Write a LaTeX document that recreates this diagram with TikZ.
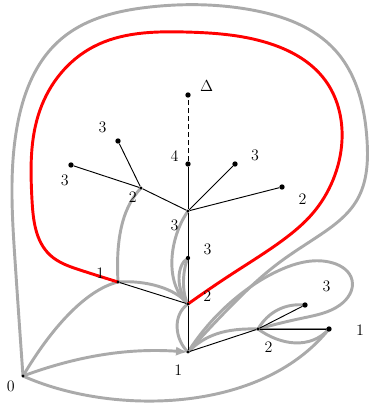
\documentclass[tikz,border=0pt]{standalone}
\usepackage{amsmath}
\usepackage{xcolor}
\usepackage{tikz}
\usetikzlibrary{arrows.meta, hobby, backgrounds}

\definecolor{pathgray}{RGB}{170,170,170}
\definecolor{edgegray}{RGB}{135,135,135}

\begin{document}
\begin{tikzpicture}[
    x=0.75pt, y=-0.75pt,
    leaf/.style={circle, fill=black, inner sep=0pt, minimum size=4pt},
    hub/.style={circle, fill=black, inner sep=0pt, minimum size=2.4pt},
    lbl/.style={inner sep=0pt, font=\fontsize{12}{14}\selectfont},
    edge/.style={draw=black, line width=0.7pt},
    walk/.style={draw=pathgray, line width=2.2pt},
    redloop/.style={draw=red, line width=2.2pt}
]
\useasboundingbox (0,0) rectangle (369,407);

% vertices of the tree
\node[hub, label={[lbl, label distance=5.5pt]208:0}] (O) at (23,376) {};
\node[hub, label={[lbl, label distance=9pt]247:1}] (R) at (188,352) {};
\node[hub, label={[lbl, label distance=10pt]8:2}] (A) at (188,304) {};
\node[hub, label={[lbl, label distance=9pt]166:1}] (B) at (118,282) {};
\node[leaf, minimum size=3.2pt, label={[lbl, label distance=10pt]11:3}] (C) at (188,258) {};
\node[hub, label={[lbl, label distance=8pt]223:3}] (D) at (188,211) {};
\node[leaf, label={[lbl, label distance=5pt]164:4}] (E) at (188,164) {};
\node[leaf, label={[lbl, label distance=7pt]15:$\Delta$}] (Dl) at (188,95) {};
\node[hub, label={[lbl, label distance=2.5pt]221:2}] (F) at (141,188) {};
\node[leaf, label={[lbl, label distance=8pt]146:3}] (G) at (118,141) {};
\node[leaf, label={[lbl, label distance=5pt]258:3}] (H) at (71,165) {};
\node[leaf, label={[lbl, label distance=10pt]11:3}] (I) at (235,164) {};
\node[leaf, label={[lbl, label distance=11pt]339:2}] (J) at (282,187) {};
\node[hub, label={[lbl, label distance=9pt]297:2}] (K) at (258,329) {};
\node[leaf, label={[lbl, label distance=14pt]37:3}] (L) at (305,305) {};
\node[leaf, label={[lbl, label distance=18pt]358:1}] (M) at (329,329) {};

% tree edges
\draw[edge] (R) -- (A) -- (C) -- (D) -- (E);
\draw[edge, dash pattern=on 3.5pt off 2.5pt] (E) -- (Dl);
\draw[edge] (A) -- (B);
\draw[edge] (D) -- (F) -- (H);
\draw[edge] (F) -- (G);
\draw[edge] (D) -- (I);
\draw[edge] (D) -- (J);
\draw[edge] (R) -- (K) -- (L);
\draw[edge] (K) -- (M);

\begin{scope}[on background layer]
% gray walks
\draw[walk, use Hobby shortcut] (O.center) .. (15,260) .. (17,127) .. (60,40) .. (150,7) .. (252,10) .. (335,50) .. (367,140) .. (357,200) .. (320,235) .. (280,262) .. (230,307) .. (R.center);
\draw[walk, -{Latex[length=9pt, width=7pt]}] (O.center) .. controls (80,355) and (130,348) .. (R.center);
\draw[walk] (O.center) .. controls (50,330) and (85,290) .. (B.center);
\draw[walk] (O.center) .. controls (110,415) and (260,415) .. (M.center);
\draw[walk] (B.center) .. controls (116,245) and (120,210) .. (F.center);
\draw[walk] (B.center) .. controls (145,280) and (175,288) .. (A.center);
\draw[walk] (D.center) .. controls (168,240) and (165,285) .. (A.center);
\draw[walk] (C.center) .. controls (176,265) and (176,290) .. (A.center);
\draw[walk] (C.center) .. controls (183,268) and (181,292) .. (A.center);
\draw[walk] (A.center) .. controls (172,315) and (175,340) .. (R.center);
\draw[walk] (R.center) .. controls (205,335) and (225,328) .. (K.center);
\draw[walk, use Hobby shortcut] (R.center) .. (237,297) .. (280,270) .. (333,263) .. (352,280) .. (340,305) .. (303,318) .. (K.center);
\draw[walk] (K.center) .. controls (268,312) and (285,303) .. (L.center);
\draw[walk] (K.center) .. controls (280,345) and (310,350) .. (M.center);
\draw[walk, draw=edgegray] (K.center) -- (M.center);

% red cycle
\draw[redloop, use Hobby shortcut] (A.center) .. (235,272) .. (283,240) .. (313,213) .. (333,180) .. (342,140) .. (325,80) .. (268,43) .. (185,32) .. (93,47) .. (40,110) .. (32,200) .. (50,255) .. (80,270) .. (B.center);
\end{scope}
\end{tikzpicture}
\end{document}
